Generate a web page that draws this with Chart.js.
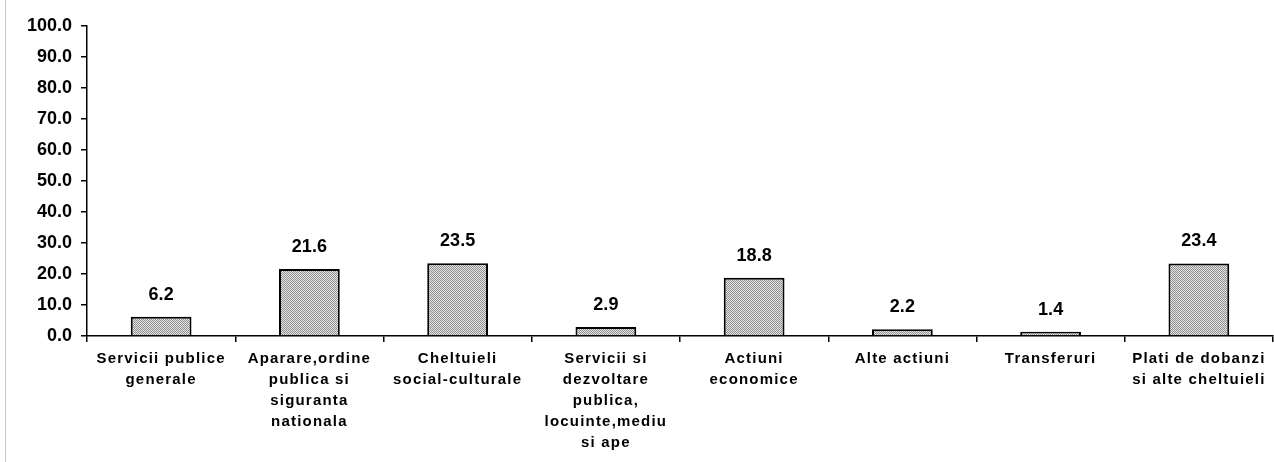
<!DOCTYPE html>
<html lang="ro">
<head>
    <meta charset="UTF-8">
    <title>Cheltuieli</title>
    <style>
        html, body { margin: 0; padding: 0; background: #fff; }
        .wrap { position: relative; width: 1274px; height: 462px; }
        .edge { position: absolute; left: 5px; top: 0; width: 1px; height: 462px; background: #c4c4c4; }
        canvas { position: absolute; left: 0; top: 0; }
    </style>
</head>
<body>
    <div class="wrap">
        <div class="edge"></div>
        <canvas id="myChart" width="1274" height="462"></canvas>
    </div>

    <script src="https://cdn.jsdelivr.net/npm/chart.js"></script>
    <script>
        var categorii = [
            ['Servicii publice', 'generale'],
            ['Aparare,ordine', 'publica si', 'siguranta', 'nationala'],
            ['Cheltuieli', 'social-culturale'],
            ['Servicii si', 'dezvoltare', 'publica,', 'locuinte,mediu', 'si ape'],
            ['Actiuni', 'economice'],
            ['Alte actiuni'],
            ['Transferuri'],
            ['Plati de dobanzi', 'si alte cheltuieli']
        ];
        var valori = [6.2, 21.6, 23.5, 2.9, 18.8, 2.2, 1.4, 23.4];
        var yMin = 0, yMax = 100, yPas = 10;

        // checkered grey fill like the scanned original
        function makePattern() {
            const c = document.createElement('canvas');
            c.width = 2; c.height = 2;
            const g = c.getContext('2d');
            g.fillStyle = '#e6e6e6';
            g.fillRect(0, 0, 2, 2);
            g.fillStyle = '#8e8e8e';
            g.fillRect(0, 0, 1, 1);
            g.fillRect(1, 1, 1, 1);
            return g.createPattern(c, 'repeat');
        }

        const valueLabels = {
            id: 'valueLabels',
            afterDatasetsDraw(chart) {
                const ctx = chart.ctx;
                const meta = chart.getDatasetMeta(0);
                ctx.save();
                ctx.font = 'bold 18px "Liberation Sans", Arial, sans-serif';
                ctx.fillStyle = '#000';
                ctx.textAlign = 'center';
                ctx.textBaseline = 'middle';
                meta.data.forEach(function (bar, i) {
                    ctx.fillText(valori[i].toFixed(1), bar.x, bar.y - 22);
                });
                ctx.restore();
            }
        };

        // spaced-out category labels
        const spacedX = {
            id: 'spacedX',
            beforeDraw(chart) {
                const x = chart.scales.x;
                if (x._spaced) return;
                const orig = x.drawLabels.bind(x);
                x.drawLabels = function (area) {
                    this.ctx.save();
                    this.ctx.letterSpacing = '1.2px';
                    orig(area);
                    this.ctx.restore();
                };
                x._spaced = true;
            }
        };

        const ctx = document.getElementById('myChart').getContext('2d');
        new Chart(ctx, {
            type: 'bar',
            data: {
                labels: categorii,
                datasets: [{
                    data: valori,
                    backgroundColor: makePattern(),
                    borderColor: '#000',
                    borderWidth: 2,
                    borderSkipped: 'bottom',
                    barPercentage: 0.41,
                    categoryPercentage: 1
                }]
            },
            options: {
                responsive: false,
                animation: false,
                layout: { padding: { top: 26, right: 1, bottom: 0, left: 0 } },
                plugins: {
                    legend: { display: false },
                    tooltip: { enabled: false }
                },
                scales: {
                    x: {
                        offset: true,
                        border: { color: '#000', width: 1.5 },
                        grid: { offset: true, drawOnChartArea: false, drawTicks: true, tickLength: 6, color: '#000', lineWidth: 1.5 },
                        ticks: {
                            color: '#000',
                            padding: 6,
                            maxRotation: 0,
                            autoSkip: false,
                            font: { family: '"Liberation Sans", Arial, sans-serif', size: 15, weight: 'bold', lineHeight: 1.4 }
                        },
                        afterFit(scale) { scale.height = 126; }
                    },
                    y: {
                        min: yMin,
                        max: yMax,
                        border: { color: '#000', width: 1.5 },
                        grid: { drawOnChartArea: false, tickLength: 6, color: '#000', lineWidth: 1.5 },
                        ticks: {
                            stepSize: yPas,
                            color: '#000',
                            padding: 9,
                            font: { family: '"Liberation Sans", Arial, sans-serif', size: 18, weight: 'bold' },
                            callback: function (v) { return v.toFixed(1); }
                        },
                        afterFit(scale) { scale.width = 87; }
                    }
                }
            },
            plugins: [valueLabels, spacedX]
        });
    </script>
</body>
</html>
